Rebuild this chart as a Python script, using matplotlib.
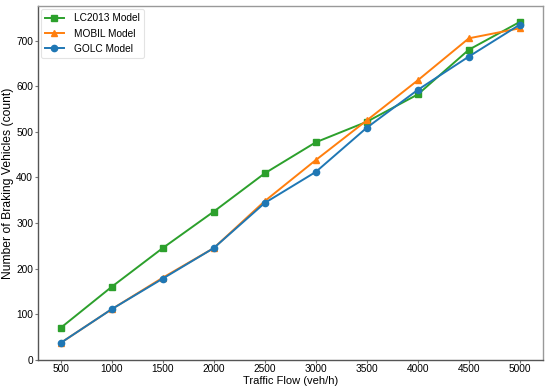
import matplotlib
matplotlib.use("Agg")
import matplotlib.pyplot as plt

plt.rcParams['font.family'] = ['Liberation Sans', 'DejaVu Sans']

traffic_flow = [500, 1000, 1500, 2000, 2500, 3000, 3500, 4000, 4500, 5000]
lc2013 = [70, 160, 245, 325, 409, 477, 522, 582, 680, 741]
mobil = [37, 111, 180, 245, 348, 438, 525, 613, 705, 727]
golc = [37, 111, 178, 245, 344, 412, 509, 592, 665, 735]

fig, ax = plt.subplots(figsize=(5.5, 3.89), dpi=100)
fig.subplots_adjust(left=0.0685, right=0.987, top=0.985, bottom=0.075)

ax.plot(traffic_flow, lc2013, color='#2ca02c', marker='s', markersize=4.5, lw=1.4, label='LC2013 Model')
ax.plot(traffic_flow, mobil, color='#ff7f0e', marker='^', markersize=4.5, lw=1.4, label='MOBIL Model')
ax.plot(traffic_flow, golc, color='#1f77b4', marker='o', markersize=4.5, lw=1.4, label='GOLC Model')

ax.set_xticks(traffic_flow)
ax.set_ylim(bottom=0)
ax.set_xlabel('Traffic Flow (veh/h)', fontsize=8.0)
ax.set_ylabel('Number of Braking Vehicles (count)', fontsize=8.7)
ax.xaxis.set_label_coords(0.5, -0.045)
ax.yaxis.set_label_coords(-0.046, 0.5)
ax.tick_params(axis='both', labelsize=7.3, length=2.5, width=0.8, color='#777777', pad=0.8)
for s in ['left', 'bottom']:
    ax.spines[s].set_color('#555555')
for s in ['top', 'right']:
    ax.spines[s].set_color('#999999')
for s in ax.spines.values():
    s.set_linewidth(1.0)

leg = ax.legend(loc='upper left', fontsize=7.3, frameon=True, handlelength=1.8,
                handletextpad=1.0, borderaxespad=0.35, borderpad=0.4)
leg.get_frame().set_edgecolor('#dddddd')
leg.get_frame().set_linewidth(0.8)

fig.savefig('out.png', dpi=100)
